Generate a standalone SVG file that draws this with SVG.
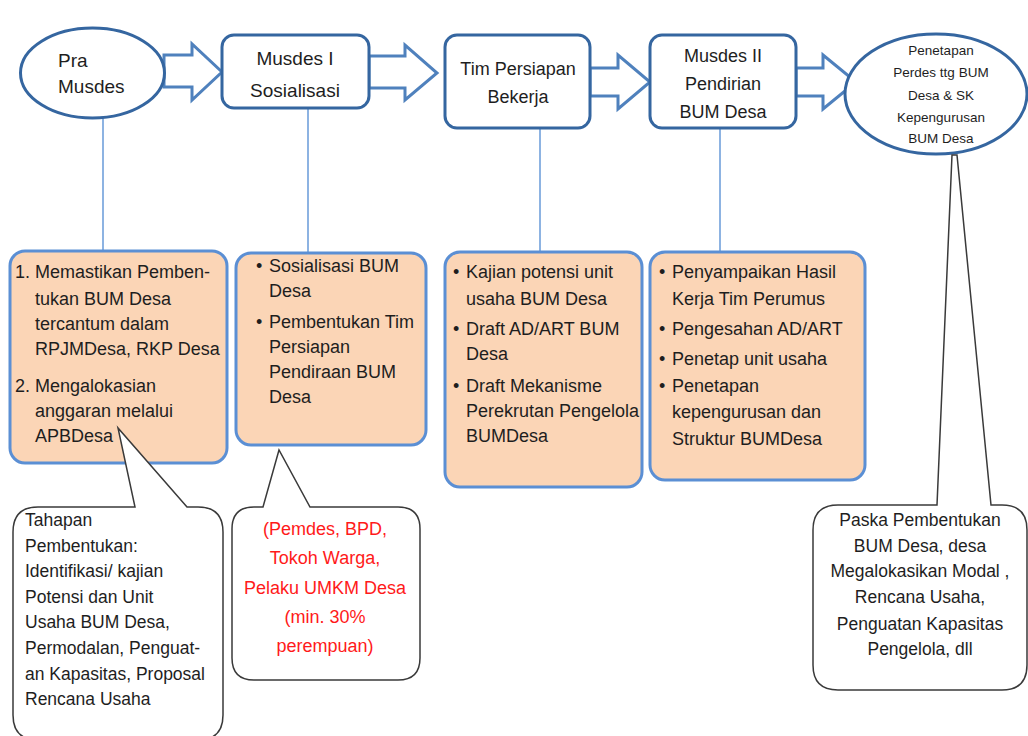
<svg xmlns="http://www.w3.org/2000/svg" width="1028" height="736" viewBox="0 0 1028 736">
<style>
text{font-family:"Liberation Sans",Arial,sans-serif;fill:#1e1e1e}
.top{fill:#fff;stroke:#3566a0;stroke-width:3}
.arr{fill:#fff;stroke:#4f81bd;stroke-width:3;stroke-linejoin:miter}
.vl{stroke:#8db3e2;stroke-width:2;fill:none}
.ob{fill:#fbd5b6;stroke:#5b8fd4;stroke-width:3}
.co{fill:#fff;stroke:#3a3a3a;stroke-width:1.5}
.t19{font-size:19px}
.t18{font-size:18px}
.t17{font-size:17.5px}
.t13{font-size:13.5px}
.red{fill:#ff1a1a;font-size:18px}
</style>
<rect width="1028" height="736" fill="#fff"/>

<g id="connectors">
<line class="vl" x1="103" y1="118" x2="103" y2="252"/>
<line class="vl" x1="308" y1="108" x2="308" y2="253"/>
<line class="vl" x1="540" y1="128" x2="540" y2="253"/>
<line class="vl" x1="720" y1="128" x2="720" y2="253"/>
<path class="arr" d="M164,55 L192,55 L192,44 L222,72 L192,100 L192,87 L164,87 Z"/>
<path class="arr" d="M369,56 L405,56 L405,45 L437,73 L405,100 L405,88 L369,88 Z"/>
<path class="arr" d="M590,68 L618,68 L618,55 L650,82 L618,109 L618,96 L590,96 Z"/>
<path class="arr" d="M796,68 L823,68 L823,55 L856,82 L823,109 L823,96 L796,96 Z"/>
</g>

<g id="node-pra-musdes">
<ellipse class="top" cx="92.5" cy="73" rx="72" ry="45"/>
<text class="t19" x="58" y="67">Pra</text>
<text class="t19" x="58" y="93">Musdes</text>
</g>

<g id="node-musdes-1">
<rect class="top" x="222" y="35" width="147" height="73" rx="12"/>
<text class="t19" x="295" y="65" text-anchor="middle">Musdes I</text>
<text class="t19" x="295" y="97" text-anchor="middle">Sosialisasi</text>
</g>

<g id="node-tim">
<rect class="top" x="445" y="35" width="145" height="93" rx="12"/>
<text class="t18" x="518" y="75" text-anchor="middle">Tim Persiapan</text>
<text class="t18" x="518" y="103" text-anchor="middle">Bekerja</text>
</g>

<g id="node-musdes-2">
<rect class="top" x="650" y="35" width="146" height="93" rx="12"/>
<text class="t18" x="723" y="62" text-anchor="middle">Musdes II</text>
<text class="t18" x="723" y="90" text-anchor="middle">Pendirian</text>
<text class="t18" x="723" y="118" text-anchor="middle">BUM Desa</text>
</g>

<g id="node-penetapan">
<ellipse class="top" cx="936" cy="94" rx="91" ry="60"/>
<text class="t13" x="941" y="55" text-anchor="middle">Penetapan</text>
<text class="t13" x="941" y="77" text-anchor="middle">Perdes ttg BUM</text>
<text class="t13" x="941" y="100" text-anchor="middle">Desa &amp; SK</text>
<text class="t13" x="941" y="122" text-anchor="middle">Kepengurusan</text>
<text class="t13" x="941" y="143" text-anchor="middle">BUM Desa</text>
</g>

<g id="box-pra">
<rect class="ob" x="10" y="251" width="217" height="212" rx="15"/>
<text class="t18" x="15" y="278">1.</text>
<text class="t18" x="35" y="278">Memastikan Pemben-</text>
<text class="t18" x="35" y="305">tukan BUM Desa</text>
<text class="t18" x="35" y="330">tercantum dalam</text>
<text class="t18" x="35" y="355">RPJMDesa, RKP Desa</text>
<text class="t18" x="15" y="392">2.</text>
<text class="t18" x="35" y="392">Mengalokasian</text>
<text class="t18" x="35" y="417">anggaran melalui</text>
<text class="t18" x="35" y="442">APBDesa</text>
</g>

<g id="box-musdes-1">
<rect class="ob" x="236" y="253" width="190" height="192" rx="15"/>
<text class="t18" x="256" y="272">•</text>
<text class="t18" x="269" y="272">Sosialisasi BUM</text>
<text class="t18" x="269" y="297">Desa</text>
<text class="t18" x="256" y="328">•</text>
<text class="t18" x="269" y="328">Pembentukan Tim</text>
<text class="t18" x="269" y="353">Persiapan</text>
<text class="t18" x="269" y="378">Pendiraan BUM</text>
<text class="t18" x="269" y="403">Desa</text>
</g>

<g id="box-tim">
<rect class="ob" x="445" y="252" width="197" height="235" rx="15"/>
<text class="t18" x="453" y="278">•</text>
<text class="t18" x="466" y="278">Kajian potensi unit</text>
<text class="t18" x="466" y="305">usaha BUM Desa</text>
<text class="t18" x="453" y="335">•</text>
<text class="t18" x="466" y="335">Draft AD/ART BUM</text>
<text class="t18" x="466" y="360">Desa</text>
<text class="t18" x="453" y="392">•</text>
<text class="t18" x="466" y="392">Draft Mekanisme</text>
<text class="t18" x="466" y="417">Perekrutan Pengelola</text>
<text class="t18" x="466" y="442">BUMDesa</text>
</g>

<g id="box-musdes-2">
<rect class="ob" x="650" y="252" width="215" height="228" rx="15"/>
<text class="t18" x="659" y="278">•</text>
<text class="t18" x="672" y="278">Penyampaikan Hasil</text>
<text class="t18" x="672" y="305">Kerja Tim Perumus</text>
<text class="t18" x="659" y="335">•</text>
<text class="t18" x="672" y="335">Pengesahan AD/ART</text>
<text class="t18" x="659" y="365">•</text>
<text class="t18" x="672" y="365">Penetap unit usaha</text>
<text class="t18" x="659" y="392">•</text>
<text class="t18" x="672" y="392">Penetapan</text>
<text class="t18" x="672" y="418">kepengurusan dan</text>
<text class="t18" x="672" y="445">Struktur BUMDesa</text>
</g>

<g id="callout-tahapan">
<path class="co" d="M38,507 L135,507 L118,428 L187,507 L198,507 Q223,507 223,532 L223,715 Q223,740 198,740 L38,740 Q13,740 13,715 L13,532 Q13,507 38,507 Z"/>
<text class="t17" x="25" y="526">Tahapan</text>
<text class="t17" x="25" y="552">Pembentukan:</text>
<text class="t17" x="25" y="577">Identifikasi/ kajian</text>
<text class="t17" x="25" y="603">Potensi dan Unit</text>
<text class="t17" x="25" y="628">Usaha BUM Desa,</text>
<text class="t17" x="25" y="654">Permodalan, Penguat-</text>
<text class="t17" x="25" y="680">an Kapasitas, Proposal</text>
<text class="t17" x="25" y="705">Rencana Usaha</text>
</g>

<g id="callout-peserta">
<path class="co" d="M254,507 L263,507 L279,450 L310,507 L398,507 Q420,507 420,529 L420,658 Q420,680 398,680 L254,680 Q232,680 232,658 L232,529 Q232,507 254,507 Z"/>
<text class="red" x="325" y="535" text-anchor="middle">(Pemdes, BPD,</text>
<text class="red" x="325" y="564" text-anchor="middle">Tokoh Warga,</text>
<text class="red" x="325" y="594" text-anchor="middle">Pelaku UMKM Desa</text>
<text class="red" x="325" y="623" text-anchor="middle">(min. 30%</text>
<text class="red" x="325" y="652" text-anchor="middle">perempuan)</text>
</g>

<g id="callout-paska">
<path class="co" d="M838,505 L937,505 L952,155 L957,155 L991,505 L1002,505 Q1027,505 1027,530 L1027,665 Q1027,690 1002,690 L838,690 Q813,690 813,665 L813,530 Q813,505 838,505 Z"/>
<text class="t17" x="920" y="526" text-anchor="middle">Paska Pembentukan</text>
<text class="t17" x="920" y="552" text-anchor="middle">BUM Desa, desa</text>
<text class="t17" x="920" y="577" text-anchor="middle">Megalokasikan Modal ,</text>
<text class="t17" x="920" y="603" text-anchor="middle">Rencana Usaha,</text>
<text class="t17" x="920" y="630" text-anchor="middle">Penguatan Kapasitas</text>
<text class="t17" x="920" y="655" text-anchor="middle">Pengelola, dll</text>
</g>
</svg>
